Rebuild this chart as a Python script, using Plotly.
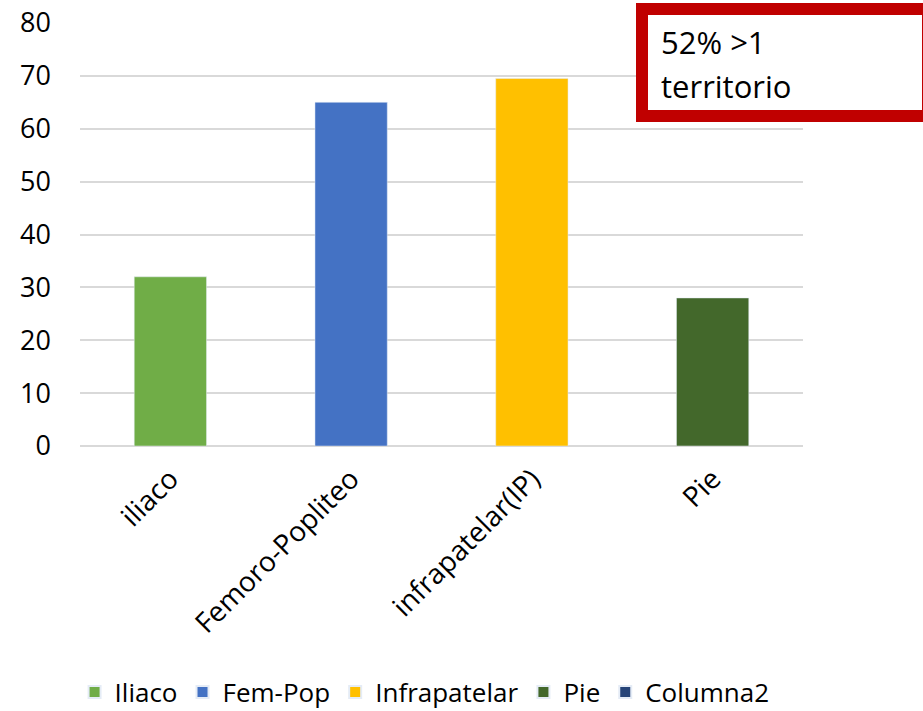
import plotly.graph_objects as go

categories = ["iliaco", "Femoro-Popliteo", "infrapatelar(IP)", "Pie"]
series_names = ["Iliaco", "Fem-Pop", "Infrapatelar", "Pie", "Columna2"]
series_values = [32, 65, 69.5, 28, None]
colors = ["#70AD47", "#4472C4", "#FFC000", "#43682B", "#264478"]
y_ticks = [0, 10, 20, 30, 40, 50, 60, 70, 80]
note_lines = ["52% >1", "territorio"]

FONT = "Open Sans, Noto Sans, sans-serif"

fig = go.Figure()
for i, name in enumerate(series_names):
    if series_values[i] is None:
        fig.add_trace(go.Bar(x=[categories[0]], y=[None], name=name,
                             marker_color=colors[i], width=0.4))
    else:
        fig.add_trace(go.Bar(x=[categories[i]], y=[series_values[i]], name=name,
                             marker_color=colors[i], width=0.4))

L, R, T, B = 80, 120, 23, 265
W, H = 923, 711
pw = W - L - R
ph = H - T - B

def px_x(x):
    return (x - L) / pw

def px_y(y):
    return (H - B - y) / ph

fig.update_layout(
    width=W, height=H,
    margin=dict(l=L, r=R, t=T, b=B, autoexpand=False),
    paper_bgcolor="white", plot_bgcolor="white",
    barmode="overlay",
    font=dict(family=FONT, size=27, color="#000000"),
    showlegend=True,
    legend=dict(orientation="h", x=0.46, xref="container", xanchor="center",
                y=px_y(692), yanchor="middle",
                font=dict(size=26, family=FONT), itemwidth=30,
                traceorder="normal", itemsizing="constant"),
    xaxis=dict(type="category", categoryorder="array", categoryarray=categories,
               tickangle=-45, showgrid=False, showline=False, ticks="",
               tickfont=dict(size=28), automargin=False, range=[-0.5, 3.5],
               ticklabelstandoff=10),
    yaxis=dict(range=[0, 80], tickvals=y_ticks, showgrid=True,
               gridcolor="#D9D9D9", gridwidth=1.5, zeroline=True,
               zerolinecolor="#D9D9D9", zerolinewidth=1.5, showline=False,
               ticks="", tickfont=dict(size=27), automargin=False,
               ticklabelstandoff=28),
)

fig.add_shape(type="rect", xref="paper", yref="paper",
              x0=px_x(642), x1=px_x(928), y0=px_y(9), y1=px_y(116),
              line=dict(color="#C00000", width=12), fillcolor="white",
              layer="above")
for line, cy in zip(note_lines, [42, 86]):
    fig.add_annotation(xref="paper", yref="paper", x=px_x(659), y=px_y(cy),
                       xanchor="left", yanchor="middle", align="left",
                       text=line, showarrow=False,
                       font=dict(size=31, family=FONT, color="#000000"))

fig.write_html("out.html")
